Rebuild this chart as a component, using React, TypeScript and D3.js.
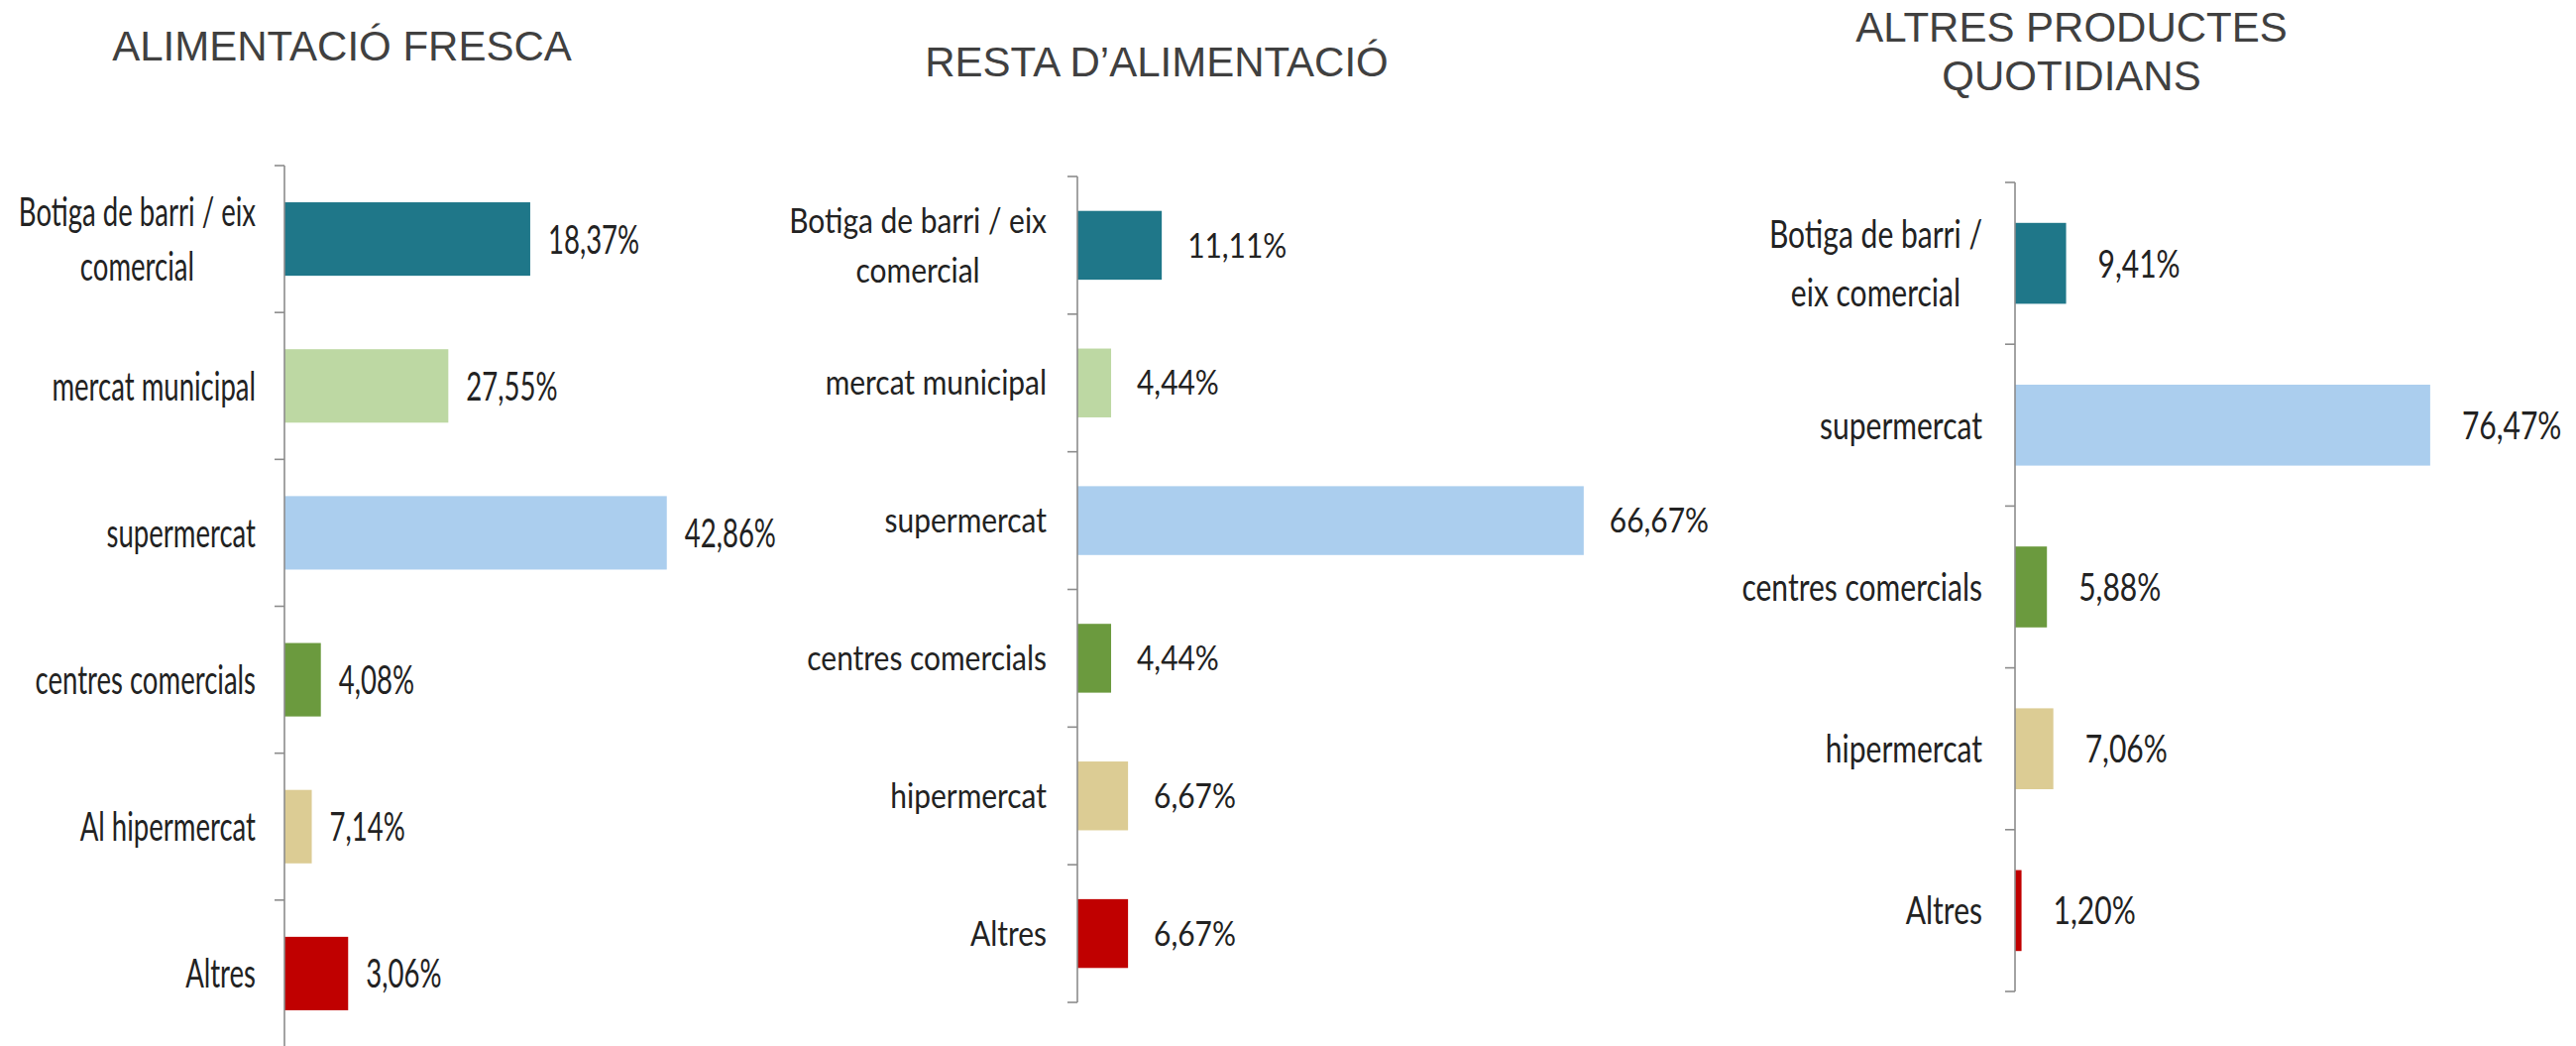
import React from 'react';
import * as d3 from 'd3';

// ALIMENTACIÓ FRESCA
const freshCategories = ['Botiga de barri / eix\ncomercial', 'mercat municipal', 'supermercat', 'centres comercials', 'Al hipermercat', 'Altres'];
const freshValues = [27.55, 18.37, 42.86, 4.08, 3.06, 7.14];
const freshLabels = ['18,37%', '27,55%', '42,86%', '4,08%', '7,14%', '3,06%'];

// RESTA D'ALIMENTACIÓ
const restCategories = ['Botiga de barri / eix\ncomercial', 'mercat municipal', 'supermercat', 'centres comercials', 'hipermercat', 'Altres'];
const restValues = [11.11, 4.44, 66.67, 4.44, 6.67, 6.67];
const restLabels = ['11,11%', '4,44%', '66,67%', '4,44%', '6,67%', '6,67%'];

// ALTRES PRODUCTES QUOTIDIANS
const otherCategories = ['Botiga de barri /\neix comercial', 'supermercat', 'centres comercials', 'hipermercat', 'Altres'];
const otherValues = [9.41, 76.47, 5.88, 7.06, 1.2];
const otherLabels = ['9,41%', '76,47%', '5,88%', '7,06%', '1,20%'];

const TEAL = '#1F7789';
const LIGHT_GREEN = '#BDD8A3';
const LIGHT_BLUE = '#ABCEEE';
const GREEN = '#6B9A3E';
const TAN = '#DCCC94';
const RED = '#C00000';

const freshColors = [TEAL, LIGHT_GREEN, LIGHT_BLUE, GREEN, TAN, RED];
const otherColors = [TEAL, LIGHT_BLUE, GREEN, TAN, RED];

const LABEL_FONT = "Lato, 'Liberation Sans', sans-serif";
const TITLE_FONT = "'Liberation Sans', Arial, sans-serif";

// text width for centring wrapped category labels
let ctx: CanvasRenderingContext2D | null = null;
function textWidth(text: string, size: number) {
  if (!ctx) ctx = document.createElement('canvas').getContext('2d');
  if (!ctx) return text.length * size * 0.45;
  ctx.font = `${size}px ${LABEL_FONT}`;
  return ctx.measureText(text).width;
}

interface PanelProps {
  title: string[];
  titleX: number;
  titleY: number;
  categories: string[];
  values: number[];
  labels: string[];
  colors: string[];
  axisX: number;
  top: number;
  bottom: number;
  xMax: number;
  xWidth: number;
  fontSize: number;
  sx: number;
  lineHeight: number;
  catGap: number;
  valGap: number;
}

function Panel(p: PanelProps) {
  const x = d3.scaleLinear().domain([0, p.xMax]).range([p.axisX, p.axisX + p.xWidth]);
  const y = d3.scaleBand<string>()
    .domain(p.categories)
    .range([p.top, p.bottom])
    .paddingInner(0.5)
    .paddingOuter(0.25);
  const step = (p.bottom - p.top) / p.categories.length;
  const ticks = d3.range(p.categories.length + 1).map(i => p.top + i * step);
  const base = p.fontSize * 0.36;

  return (
    <g>
      <text
        x={p.titleX}
        y={p.titleY}
        textAnchor="middle"
        fontFamily={TITLE_FONT}
        fontSize={42}
        fill="#404040"
      >
        {p.title.map((t, i) => (
          <tspan key={i} x={p.titleX} dy={i === 0 ? 0 : 49}>{t}</tspan>
        ))}
      </text>

      {p.categories.map((c, i) => (
        <rect
          key={c}
          x={x(0)}
          y={y(c)}
          width={x(p.values[i]) - x(0)}
          height={y.bandwidth()}
          fill={p.colors[i]}
        />
      ))}

      <line x1={p.axisX} x2={p.axisX} y1={p.top} y2={p.bottom} stroke="#8C8C8C" strokeWidth={1.6} />
      {ticks.map((t, i) => (
        <line key={i} x1={p.axisX - 10} x2={p.axisX} y1={t} y2={t} stroke="#8C8C8C" strokeWidth={1.6} />
      ))}

      {p.categories.map((c, i) => {
        const yc = (y(c) || 0) + y.bandwidth() / 2;
        const lines = c.split('\n');
        const first = base - ((lines.length - 1) * p.lineHeight) / 2;
        const multi = lines.length > 1;
        const widest = multi ? Math.max(...lines.map(l => textWidth(l, p.fontSize))) : 0;
        return (
          <text
            key={'c' + i}
            transform={`translate(${p.axisX - p.catGap},${yc}) scale(${p.sx},1)`}
            textAnchor={multi ? 'middle' : 'end'}
            fontFamily={LABEL_FONT}
            fontSize={p.fontSize}
            fill="#222"
          >
            {lines.map((l, j) => (
              <tspan key={j} x={multi ? -widest / 2 : 0} y={first + j * p.lineHeight}>{l}</tspan>
            ))}
          </text>
        );
      })}

      {p.categories.map((c, i) => {
        const yc = (y(c) || 0) + y.bandwidth() / 2;
        return (
          <text
            key={'v' + i}
            transform={`translate(${x(p.values[i]) + p.valGap},${yc}) scale(${p.sx},1)`}
            y={base}
            fontFamily={LABEL_FONT}
            fontSize={p.fontSize}
            fill="#222"
          >
            {p.labels[i]}
          </text>
        );
      })}
    </g>
  );
}

export default function App() {
  return (
    <svg
      width={2599}
      height={1055}
      style={{ position: 'absolute', left: 0, top: 0, background: '#fff' }}
    >
      <rect width={2599} height={1055} fill="#fff" />
      <Panel
        title={['ALIMENTACIÓ FRESCA']}
        titleX={345}
        titleY={61}
        categories={freshCategories}
        values={freshValues}
        labels={freshLabels}
        colors={freshColors}
        axisX={287}
        top={167}
        bottom={1056}
        xMax={50}
        xWidth={450}
        fontSize={40.5}
        sx={0.68}
        lineHeight={55.4}
        catGap={29}
        valGap={18}
      />
      <Panel
        title={['RESTA D\u2019ALIMENTACIÓ']}
        titleX={1167}
        titleY={77}
        categories={restCategories}
        values={restValues}
        labels={restLabels}
        colors={freshColors}
        axisX={1087}
        top={178}
        bottom={1011}
        xMax={80}
        xWidth={613}
        fontSize={34}
        sx={0.88}
        lineHeight={50}
        catGap={31}
        valGap={26}
      />
      <Panel
        title={['ALTRES PRODUCTES', 'QUOTIDIANS']}
        titleX={2090}
        titleY={42}
        categories={otherCategories}
        values={otherValues}
        labels={otherLabels}
        colors={otherColors}
        axisX={2033}
        top={184}
        bottom={1000}
        xMax={90}
        xWidth={493}
        fontSize={39}
        sx={0.77}
        lineHeight={58.3}
        catGap={33}
        valGap={32}
      />
    </svg>
  );
}
